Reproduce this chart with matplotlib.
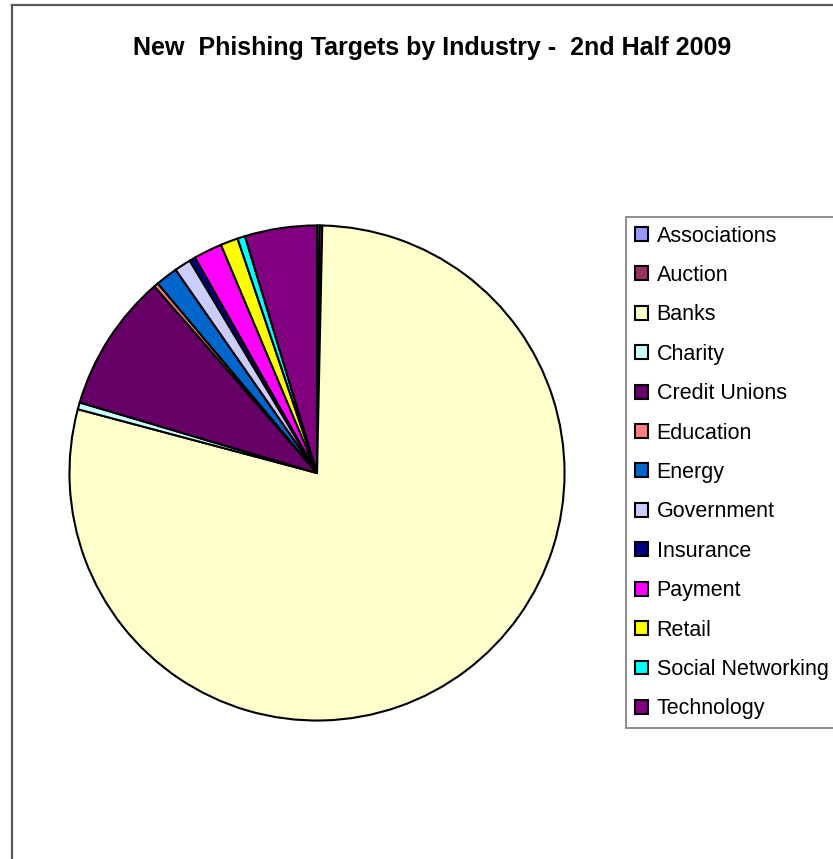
import matplotlib
matplotlib.use("Agg")
import matplotlib.pyplot as plt
from matplotlib.patches import Patch

categories = ["Associations", "Auction", "Banks", "Charity", "Credit Unions",
              "Education", "Energy", "Government", "Insurance", "Payment",
              "Retail", "Social Networking", "Technology"]
# share of new phishing targets (percent)
values = [0.17, 0.17, 78.8, 0.45, 9.0, 0.28, 1.45, 1.08, 0.39, 1.86, 1.14, 0.5, 4.7]
colors = ["#9999FF", "#993366", "#FFFFCC", "#CCFFFF", "#660066", "#FF8080",
          "#0066CC", "#CCCCFF", "#000080", "#FF00FF", "#FFFF00", "#00FFFF",
          "#800080"]
title = "New  Phishing Targets by Industry -  2nd Half 2009"

W, H = 833, 859
fig = plt.figure(figsize=(W / 100, H / 100), dpi=100)
plt.rcParams['font.family'] = ['Liberation Sans', 'DejaVu Sans']

# outer chart frame (left and top edges visible)
fig.add_artist(plt.Line2D([11.5 / W, 11.5 / W], [0, 1 - 4.5 / H], transform=fig.transFigure,
                          color="#5a5a5a", lw=1.6))
fig.add_artist(plt.Line2D([11.5 / W, 1], [1 - 4.5 / H, 1 - 4.5 / H], transform=fig.transFigure,
                          color="#5a5a5a", lw=1.6))

cx, cy, r = 317, 473, 250
ax = fig.add_axes([(cx - r) / W, (H - cy - r) / H, 2 * r / W, 2 * r / H])
ax.pie(values, colors=colors, startangle=90, counterclock=False, radius=1,
       wedgeprops=dict(edgecolor="black", linewidth=1.5))
ax.set_xlim(-1.01, 1.01)
ax.set_ylim(-1.01, 1.01)
ax.set_aspect("auto")
ax.axis("off")

fig.text(432 / W, 1 - 46 / H, title, ha="center", va="center_baseline",
         fontsize=18, fontweight="bold")

handles = [Patch(facecolor=c, edgecolor="black", linewidth=1.5) for c in colors]
leg = fig.legend(handles, categories, loc="upper left",
                 bbox_to_anchor=(626 / W, 1 - 217 / H), fontsize=15.5,
                 handlelength=0.62, handleheight=0.62, handletextpad=0.40,
                 borderpad=0.40, labelspacing=0.855, borderaxespad=0,
                 fancybox=False, frameon=True)
leg.get_frame().set_edgecolor("#5a5a5a")
leg.get_frame().set_linewidth(1.2)

fig.savefig("out.png", dpi=100)
